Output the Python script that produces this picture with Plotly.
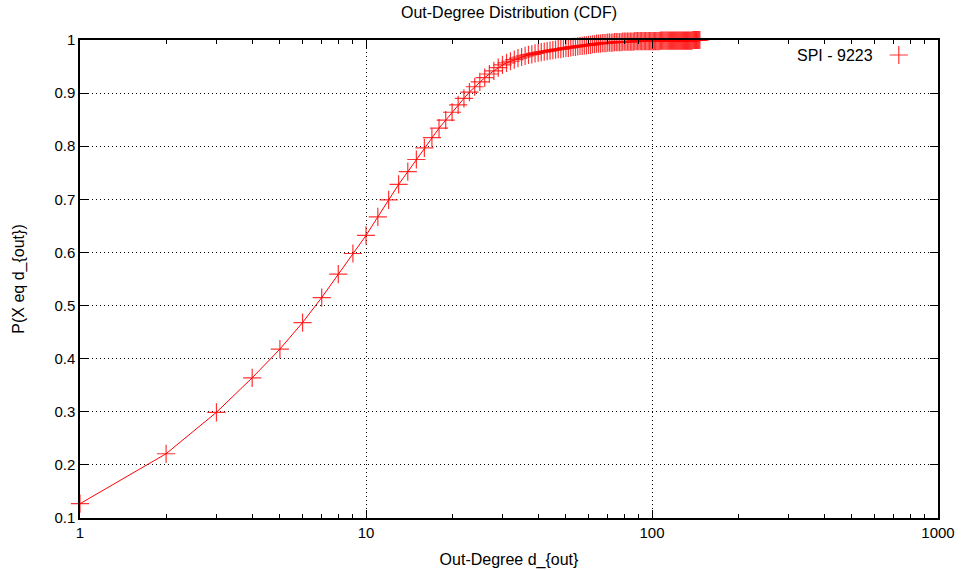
import plotly.graph_objects as go

degree = list(range(1, 148))
cdf = [
    0.127, 0.221, 0.299, 0.364, 0.418, 0.468, 0.515, 0.559, 0.598, 0.632,
    0.667, 0.699, 0.728, 0.752, 0.775, 0.797, 0.816, 0.834, 0.849, 0.864,
    0.878, 0.890, 0.902, 0.912, 0.921, 0.929, 0.936, 0.942, 0.948, 0.953,
    0.957, 0.960, 0.963, 0.966, 0.968, 0.970, 0.972, 0.973, 0.975, 0.976,
    0.977, 0.978, 0.979, 0.980, 0.981, 0.982, 0.983, 0.983, 0.984, 0.985,
    0.985, 0.986, 0.987, 0.987, 0.988, 0.989, 0.989, 0.990, 0.990, 0.991,
    0.991, 0.992, 0.992, 0.993, 0.993, 0.993, 0.994, 0.994, 0.994, 0.995,
    0.995, 0.995, 0.995, 0.996, 0.996, 0.996, 0.996, 0.996, 0.997, 0.997,
    0.997, 0.997, 0.997, 0.997, 0.997, 0.997, 0.998, 0.998, 0.998, 0.998,
    0.998, 0.998, 0.998, 0.998, 0.998, 0.998, 0.998, 0.998, 0.998, 0.998,
    0.998, 0.998, 0.998, 0.998, 0.998, 0.998, 0.999, 0.999, 0.999, 0.999,
    0.999, 0.999, 0.999, 0.999, 0.999, 0.999, 0.999, 0.999, 0.999, 0.999,
    0.999, 0.999, 0.999, 0.999, 0.999, 0.999, 0.999, 0.999, 0.999, 0.999,
    0.999, 0.999, 0.999, 0.999, 0.999, 0.999, 0.999, 0.999, 1.000, 1.000,
    1.000, 1.000, 1.000, 1.000, 1.000, 1.000, 1.000,
]
series_name = "SPI - 9223"
x_tickvals = [1, 10, 100, 1000]
x_ticktext = ["1", "10", "100", "1000"]
x_minor_tickvals = [m * d for d in (1, 10, 100) for m in range(2, 10)]
y_tickvals = [0.1, 0.2, 0.3, 0.4, 0.5, 0.6, 0.7, 0.8, 0.9, 1.0]
y_ticktext = ["0.1", "0.2", "0.3", "0.4", "0.5", "0.6", "0.7", "0.8", "0.9", "1"]

FONT = "Liberation Sans, Arial, Helvetica, sans-serif"

fig = go.Figure()
# line drawn on an overlay x-axis that carries the minor ticks (same log range)
fig.add_trace(go.Scatter(
    x=degree, y=cdf, mode="lines", cliponaxis=False, xaxis="x2",
    line=dict(color="red", width=1), showlegend=False, hoverinfo="skip",
))
fig.add_trace(go.Scatter(
    x=degree, y=cdf, mode="markers", name=" ", cliponaxis=False,
    marker=dict(symbol="cross-thin", size=13,
                line=dict(color="rgba(255,0,0,0.8)", width=1.2)),
    showlegend=True,
))

fig.update_layout(
    width=963, height=570,
    margin=dict(l=80, r=25, t=40, b=52),
    paper_bgcolor="white", plot_bgcolor="white",
    font=dict(family=FONT, size=15, color="black"),
    title=dict(text="Out-Degree Distribution (CDF)", x=509 / 963,
               xanchor="center", y=1 - 12 / 570, yanchor="middle",
               font=dict(family=FONT, size=16, color="black")),
    showlegend=True,
    legend=dict(x=0.931, y=1.004, xanchor="left", yanchor="top",
                bgcolor="rgba(0,0,0,0)", borderwidth=0,
                itemwidth=30, font=dict(size=16)),
    annotations=[dict(text=series_name, xref="paper", yref="paper",
                      x=0.926, y=0.968, xanchor="right", yanchor="middle",
                      showarrow=False, font=dict(family=FONT, size=16))],
    xaxis2=dict(
        type="log", range=[0, 3], overlaying="x", anchor="y", side="bottom",
        automargin=False, tickmode="array", tickvals=x_minor_tickvals,
        showticklabels=False, ticks="inside", ticklen=4, tickwidth=1,
        tickcolor="black", showgrid=False, zeroline=False,
        showline=False, mirror="ticks",
    ),
)

fig.update_xaxes(
    selector=dict(anchor="y", overlaying=None),
)
fig.layout.xaxis.update(
    type="log", range=[0, 3], automargin=False,
    tickvals=x_tickvals, ticktext=x_ticktext,
    ticks="inside", ticklen=8, tickwidth=1, tickcolor="black",
    showline=True, linecolor="black", linewidth=1.5, mirror="ticks",
    showgrid=True, gridcolor="black", griddash="1px,3px", gridwidth=1,
    zeroline=False,
    title=dict(text="Out-Degree d_{out}", standoff=14, font=dict(size=16)),
)
fig.update_yaxes(
    range=[0.1, 1.0], automargin=False,
    tickvals=y_tickvals, ticktext=y_ticktext,
    ticks="inside", ticklen=8, tickwidth=1, tickcolor="black",
    showline=True, linecolor="black", linewidth=1.5, mirror="ticks",
    showgrid=True, gridcolor="black", griddash="1px,3px", gridwidth=1,
    zeroline=False,
    title=dict(text="P(X eq d_{out})", standoff=26, font=dict(size=16)),
)

fig.write_html("out.html")
